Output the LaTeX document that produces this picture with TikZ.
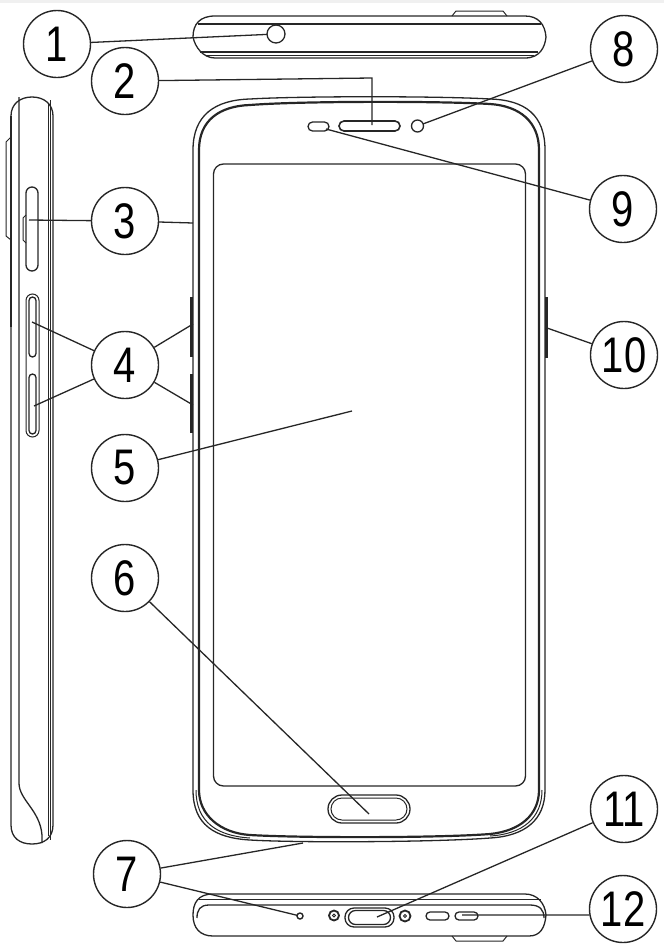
\documentclass[tikz,border=0pt]{standalone}
\usepackage{fontspec}
\setmainfont[FakeStretch=0.8]{Liberation Sans}

\begin{document}
\begin{tikzpicture}[
x=1pt, y=-1pt,
numnode/.style={circle, draw=black!85, line width=1.4pt, fill=white, minimum size=67pt, inner sep=0pt, font=\fontsize{50}{50}\selectfont},
leader/.style={draw=black!85, line width=1.3pt},
thinline/.style={draw=black!85, line width=1pt},
midline/.style={draw=black!85, line width=1.3pt},
boldline/.style={draw=black!85, line width=2.2pt},
partnode/.style={draw=black!85, line width=1.3pt, inner sep=0pt, outer sep=0pt},
]
    \useasboundingbox (0,0) rectangle (664,945);
    \fill[black!6] (0,0) rectangle (664,3);

    % top view
    \draw[midline] (193,37) .. controls (193,24) and (200,16) .. (215,16) -- (525,16) .. controls (538,16) and (545,24) .. (546,37) .. controls (545,47) and (540,58) .. (525,58) -- (215,58) .. controls (203,58) and (195,47) .. (193,37);
    \draw[midline] (198,24) -- (541,24);
    \draw[midline] (200,52) -- (538,52);
    \draw[thinline] (205,55) -- (534,55);
    \draw[thinline] (452,16) -- (456,11) -- (503,11) -- (507,16);
    \node [partnode, circle, minimum size=18pt] (jack) at (276,34) {};

    % side view
    \draw[midline] (19,97) -- (19,783) .. controls (19,800) and (40,810) .. (42,835) -- (42,843);
    \draw[midline] (11,327) -- (11,825) .. controls (11,838) and (20,844) .. (32,844) .. controls (44,844) and (53,838) .. (53,825) -- (53,116) .. controls (53,104) and (44,97) .. (32,97) .. controls (20,97) and (11,104) .. (11,116) -- cycle;
    \draw[boldline] (11,116) -- (11,327);
    \draw[thinline] (48,104) -- (48,836);
    \draw[thinline] (50.5,100) -- (50.5,840);
    \draw[thinline] (11,137) -- (6,142) -- (6,236) -- (11,240);
    \node [partnode, rounded corners=6pt, minimum width=12pt, minimum height=84pt] (simslot) at (32,229) {};
    \draw[thinline] (26,215) -- (23,218) -- (23,240) -- (26,243);
    \node [partnode, rounded corners=6.5pt, thinline, minimum width=13pt, minimum height=143pt] (volframe) at (32.5,365.5) {};
    \node [partnode, rounded corners=3.5pt, minimum width=7pt, minimum height=60pt] (volup) at (32.5,327) {};
    \node [partnode, rounded corners=3.5pt, minimum width=7pt, minimum height=60pt] (voldown) at (32.5,404) {};

    % front view
    \draw[midline] (193,150) .. controls (193,115) and (215,100) .. (250,99) .. controls (300,96) and (440,96) .. (490,99) .. controls (525,100) and (545,115) .. (545,150) -- (545,790) .. controls (545,820) and (525,836) .. (490,838) .. controls (440,842) and (300,843) .. (250,840) .. controls (215,838) and (193,825) .. (193,790) -- cycle;
    \draw[boldline] (199,150) .. controls (199,120) and (220,106) .. (250,105) .. controls (300,101) and (440,101) .. (490,104) .. controls (520,106) and (539,122) .. (539,150) -- (539,790) .. controls (539,815) and (520,831) .. (490,834) .. controls (440,838) and (300,838) .. (250,835) .. controls (220,833) and (199,815) .. (199,790) -- cycle;
    \draw[thinline] (196,790) .. controls (196,822) and (217,836) .. (250,838);
    \draw[thinline] (542,790) .. controls (542,818) and (523,834) .. (490,836);
    \draw[midline, rounded corners=10pt] (213.5,164) rectangle (525.5,786);
    \draw[line width=2.4pt, draw=black!85] (191.5,297) -- (191.5,357) (191.5,374) -- (191.5,433);
    \draw[line width=2.6pt, draw=black!85] (546.5,297) -- (546.5,358);
    \node [partnode, rounded corners=5pt, line width=1.6pt, minimum width=61pt, minimum height=10pt] (speaker) at (369.5,126) {};
    \node [partnode, circle, minimum size=12pt] (camera) at (417.5,126) {};
    \node [partnode, rounded corners=4.5pt, minimum width=21pt, minimum height=9pt] (sensor) at (318.5,126.5) {};
    \node [partnode, rounded corners=14pt, minimum width=82pt, minimum height=28pt] (homekey) at (369,809) {};
    \node [partnode, thinline, rounded corners=11pt, minimum width=76pt, minimum height=22pt] (homeinner) at (369,809) {};

    % bottom view
    \draw[midline] (193,915) .. controls (193,903) and (198,894) .. (213,894) -- (525,894) .. controls (537,894) and (545,903) .. (546,915) .. controls (545,928) and (540,936) .. (529,936) -- (213,936) .. controls (200,936) and (193,928) .. (193,915);
    \draw[thinline] (199,899) -- (541,899);
    \draw[midline] (197,918) .. controls (197,910) and (200,905) .. (209,905) -- (530,905) .. controls (540,905) and (544,910) .. (544,918);
    \draw[thinline] (452,936) -- (456,941) -- (503,941) -- (507,936);
    \node [partnode, circle, minimum size=6pt, line width=1.4pt] (mic) at (300,916) {};
    \node [partnode, circle, minimum size=10pt, line width=1.8pt] (dotleft) at (334,915.5) {};
    \node [partnode, circle, minimum size=3pt, thinline] (dotlefti) at (334,915.5) {};
    \node [partnode, circle, minimum size=11pt, line width=1.8pt] (dotright) at (405,916) {};
    \node [partnode, circle, minimum size=3pt, thinline] (dotrighti) at (405,916) {};
    \node [partnode, rounded corners=9pt, minimum width=49pt, minimum height=19pt] (usbport) at (369.5,917.5) {};
    \node [partnode, rounded corners=7pt, minimum width=42pt, minimum height=14pt] (usbinner) at (369.5,917.5) {};
    \node [partnode, rounded corners=4pt, minimum width=23pt, minimum height=8pt] (grilleleft) at (437.5,916) {};
    \node [partnode, rounded corners=4pt, minimum width=23pt, minimum height=8pt] (grilleright) at (466.5,916) {};

    % number circles
    \node [numnode] (n1) at (57,44) {1};
    \node [numnode] (n2) at (125,81) {2};
    \node [numnode] (n3) at (125,221) {3};
    \node [numnode] (n4) at (125,365) {4};
    \node [numnode] (n5) at (125,468) {5};
    \node [numnode] (n6) at (125,578) {6};
    \node [numnode] (n7) at (127,874) {7};
    \node [numnode] (n8) at (624,49) {8};
    \node [numnode] (n9) at (623,209) {9};
    \node [numnode] (n10) at (624,355) {10};
    \node [numnode] (n11) at (624,809) {11};
    \node [numnode] (n12) at (623,909) {12};

    % leader ends
    \coordinate (k2) at (372,78);
    \coordinate (p2) at (372,125);
    \coordinate (p3a) at (29,220);
    \coordinate (p3b) at (193,223);
    \coordinate (p4a) at (32,322);
    \coordinate (p4b) at (34,406);
    \coordinate (p4c) at (193,324);
    \coordinate (p4d) at (193,405);
    \coordinate (p5) at (352,411);
    \coordinate (p6) at (369,814);
    \coordinate (p7a) at (303,843);
    \coordinate (p9) at (326,129);
    \coordinate (p10) at (547,328);
    \coordinate (p11) at (377,917);
    \coordinate (p12) at (462,915);

    \draw[leader] (n1) edge (jack);
    \draw[leader] (n2) -- (k2) -- (p2);
    \draw[leader] (n3) edge (p3a);
    \draw[leader] (n3) edge (p3b);
    \draw[leader] (n4) edge (p4a);
    \draw[leader] (n4) edge (p4b);
    \draw[leader] (n4) edge (p4c);
    \draw[leader] (n4) edge (p4d);
    \draw[leader] (n5) edge (p5);
    \draw[leader] (n6) edge (p6);
    \draw[leader] (n7) edge (p7a);
    \draw[leader] (n7) edge (mic);
    \draw[leader] (n8) edge (camera);
    \draw[leader] (n9) edge (p9);
    \draw[leader] (n10) edge (p10);
    \draw[leader] (n11) edge (p11);
    \draw[leader] (n12.190) edge (p12);
\end{tikzpicture}
\end{document}
